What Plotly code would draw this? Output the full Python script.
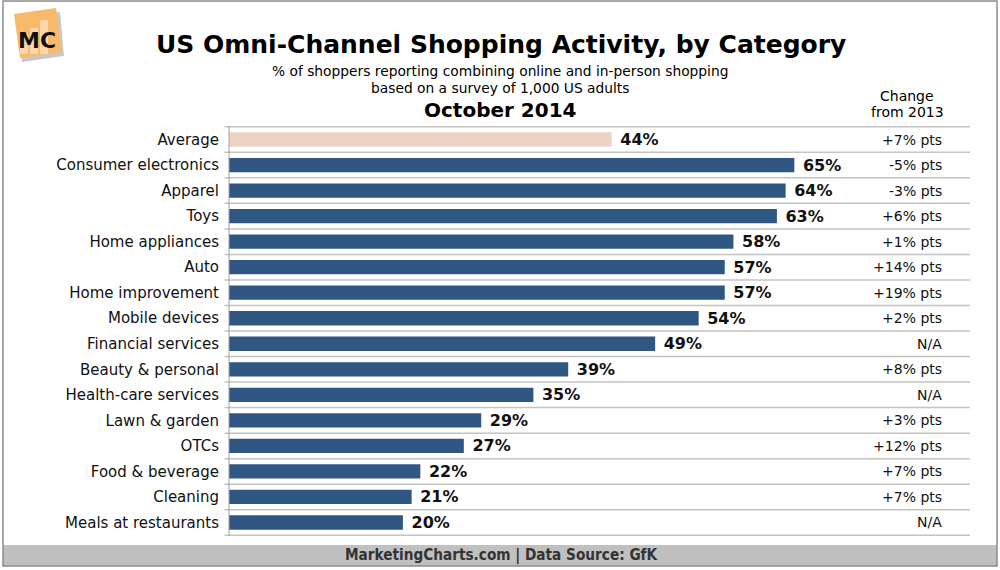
import plotly.graph_objects as go

categories = ["Average", "Consumer electronics", "Apparel", "Toys", "Home appliances", "Auto",
              "Home improvement", "Mobile devices", "Financial services", "Beauty & personal",
              "Health-care services", "Lawn & garden", "OTCs", "Food & beverage", "Cleaning",
              "Meals at restaurants"]
values = [44, 65, 64, 63, 58, 57, 57, 54, 49, 39, 35, 29, 27, 22, 21, 20]
changes = ["+7% pts", "-5% pts", "-3% pts", "+6% pts", "+1% pts", "+14% pts", "+19% pts",
           "+2% pts", "N/A", "+8% pts", "N/A", "+3% pts", "+12% pts", "+7% pts", "+7% pts", "N/A"]

W, H = 1000, 570
L, R, T, B = 229, 30, 126, 34
xmax = 85.2

colors = ["#ecd3c4"] + ["#2f5782"] * (len(categories) - 1)

fig = go.Figure()
fig.add_trace(go.Bar(
    x=values, y=categories, orientation="h",
    marker=dict(color=colors, line=dict(width=0)),
    width=0.56,
    text=[f"{v}%" for v in values], textposition="outside",
    textfont=dict(family="DejaVu Sans", size=16, color="#111"),
    texttemplate="<b> %{text}</b>", constraintext="none",
    cliponaxis=False, hoverinfo="skip",
))

shapes = []
n = len(categories)
for i in range(n + 1):
    shapes.append(dict(type="line", xref="paper", yref="y", x0=-0.006, x1=1,
                       y0=i - 0.5, y1=i - 0.5, line=dict(color="#c4c4c4", width=1.5), layer="below"))
# axis line
shapes.append(dict(type="line", xref="paper", yref="paper", x0=0, x1=0, y0=0, y1=1,
                   line=dict(color="#a0a0a0", width=1)))
pw, ph = W - L - R, H - T - B
def px(x): return (x - L) / pw
def py(y): return 1 - (y - T) / ph
# footer band
shapes.append(dict(type="rect", xref="paper", yref="paper",
                   x0=px(3), x1=px(997), y0=py(566), y1=py(545),
                   line=dict(width=0), fillcolor="#c0c0c0", layer="below"))
# outer frame
shapes.append(dict(type="rect", xref="paper", yref="paper",
                   x0=px(3), x1=px(997), y0=py(566), y1=py(1),
                   line=dict(color="#8c8c8c", width=1.5), fillcolor="rgba(0,0,0,0)", layer="below"))
# logo
logo_pts = [(14, 14), (56, 8), (62, 52), (20, 58)]
path = "M " + " L ".join(f"{px(a)},{py(b)}" for a, b in logo_pts) + " Z"
shadow_pts = [(16, 18), (60, 12), (64, 56), (22, 62)]
spath = "M " + " L ".join(f"{px(a)},{py(b)}" for a, b in shadow_pts) + " Z"
shapes.append(dict(type="path", xref="paper", yref="paper", path=spath,
                   fillcolor="#c8c8c8", line=dict(width=0)))
shapes.append(dict(type="path", xref="paper", yref="paper", path=path,
                   fillcolor="#f9b96b", line=dict(width=0)))
for (a0, a1, b0) in [(20, 28, 34), (30, 38, 28), (40, 48, 20)]:
    shapes.append(dict(type="rect", xref="paper", yref="paper", x0=px(a0), x1=px(a1),
                       y0=py(54), y1=py(b0), fillcolor="rgba(255,235,210,0.6)", line=dict(width=0)))

annotations = []
def ann(text, x, y, size, bold=False, color="#000", xanchor="center", family="DejaVu Sans"):
    annotations.append(dict(text=f"<b>{text}</b>" if bold else text, xref="paper", yref="paper",
                            x=px(x), y=py(y), xanchor=xanchor, yanchor="middle", showarrow=False,
                            font=dict(family=family, size=size, color=color)))

ann("US Omni-Channel Shopping Activity, by Category", 501, 44, 25, bold=True)
ann("% of shoppers reporting combining online and in-person shopping", 500, 71, 13.8)
ann("based on a survey of 1,000 US adults", 500, 88, 13.8)
ann("October 2014", 500, 110, 20, bold=True)
ann("Change", 907, 96, 14)
ann("from 2013", 907, 112, 14)
ann("MarketingCharts.com | Data Source: GfK", 501, 555, 15.2, bold=True, color="#333333",
    family="DejaVu Sans Condensed")
ann("MC", 37, 40, 22, bold=True, color="#111")

for c, ch in zip(categories, changes):
    annotations.append(dict(text=ch, xref="paper", yref="y", x=px(944), y=c, xanchor="right",
                            yanchor="middle", showarrow=False,
                            font=dict(family="DejaVu Sans", size=14, color="#111")))

fig.update_layout(
    width=W, height=H, margin=dict(l=L, r=R, t=T, b=B, pad=0),
    paper_bgcolor="white", plot_bgcolor="white", showlegend=False,
    xaxis=dict(range=[0, xmax], visible=False, fixedrange=True),
    yaxis=dict(categoryorder="array", categoryarray=categories, autorange="reversed",
               showgrid=False, zeroline=False, showline=False, ticks="",
               ticklabelstandoff=9,
               tickfont=dict(family="DejaVu Sans", size=15, color="#111"), fixedrange=True),
    shapes=shapes, annotations=annotations, bargap=0.44,
)
fig.write_html("out.html")
